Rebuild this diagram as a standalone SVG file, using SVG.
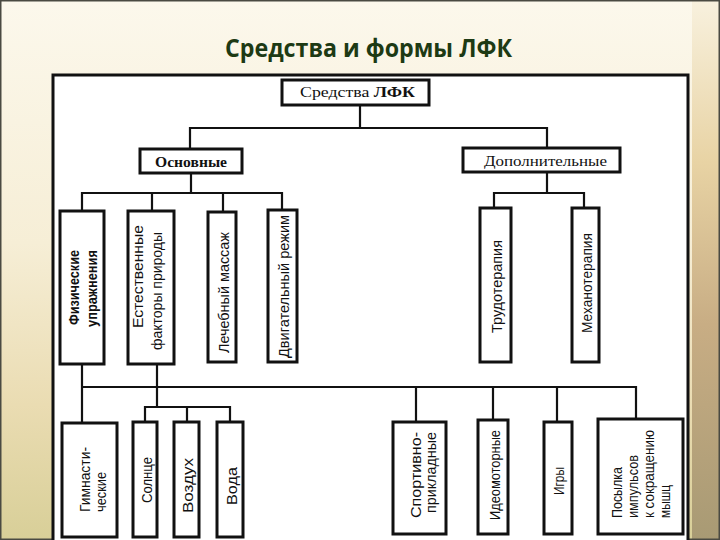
<svg xmlns="http://www.w3.org/2000/svg" width="720" height="540" viewBox="0 0 720 540">
<defs>
<linearGradient id="bgv" x1="0" y1="0" x2="0" y2="1">
<stop offset="0" stop-color="#fcf8ec"/>
<stop offset="0.45" stop-color="#f6eed6"/>
<stop offset="0.75" stop-color="#eadcb2"/>
<stop offset="1" stop-color="#d8cf98"/>
</linearGradient>
<linearGradient id="bgr" x1="0" y1="0" x2="0" y2="1">
<stop offset="0" stop-color="#f8f1de"/>
<stop offset="0.3" stop-color="#e8d3a4"/>
<stop offset="0.6" stop-color="#c8ad84"/>
<stop offset="1" stop-color="#a89a74"/>
</linearGradient>
<style>
.box{fill:#ffffff;stroke:#111;stroke-width:3}
.con{fill:none;stroke:#111;stroke-width:2.2;stroke-linecap:square}
.vt{font-family:"Liberation Sans Narrow","Liberation Sans",Arial,sans-serif;font-size:15px;fill:#111;dominant-baseline:central}
.ht{font-family:"Liberation Serif","Times New Roman",serif;font-size:15px;fill:#111}
</style>
</defs>
<rect x="0" y="0" width="720" height="540" fill="url(#bgv)"/>
<rect x="692" y="0" width="28" height="540" fill="url(#bgr)"/>
<rect x="0.75" y="0.75" width="718.5" height="538.5" fill="none" stroke="#4a4a42" stroke-width="1.5"/>
<text x="225" y="57" font-family="'Open Sans','Noto Sans',sans-serif" font-weight="bold" font-size="25" fill="#1d3a14" textLength="287" lengthAdjust="spacingAndGlyphs">Средства и формы ЛФК</text>
<rect x="53" y="75" width="635" height="470" fill="#ffffff" stroke="#111" stroke-width="3"/>

<g id="connectors">
<path class="con" d="M360 105V128M190 128H547M190 128V149M547 128V148"/>
<path class="con" d="M191 173V193M82 193H282M82 193V211M152 193V211M223 193V212M282 193V210"/>
<path class="con" d="M547 172V193M494 193H584M494 193V208M584 193V208"/>
<path class="con" d="M82 364V423M82 387H636M416 387V422M493 387V420M557 387V422M636 387V419"/>
<path class="con" d="M157 364V407M145 407H230M145 407V422M187 407V422M230 407V422"/>
</g>

<g id="root"><rect class="box" x="282" y="80" width="147" height="25"/><text class="ht" x="300" y="97" textLength="115" lengthAdjust="spacingAndGlyphs">Средства <tspan font-weight="bold">ЛФК</tspan></text></g>
<g id="osnovnye"><rect class="box" x="140" y="149" width="102" height="24"/><text class="ht" x="155" y="167" font-weight="bold" textLength="72" lengthAdjust="spacingAndGlyphs">Основные</text></g>
<g id="dopolnitelnye"><rect class="box" x="463" y="148" width="157" height="24"/><text class="ht" x="484" y="166" textLength="123" lengthAdjust="spacingAndGlyphs">Дополнительные</text></g>

<g id="fiz"><rect class="box" x="60" y="211" width="44" height="153"/>
<text class="vt" transform="translate(73,325) rotate(-90)" font-weight="bold" textLength="75" lengthAdjust="spacingAndGlyphs">Физические</text>
<text class="vt" transform="translate(91,327) rotate(-90)" font-weight="bold" textLength="77" lengthAdjust="spacingAndGlyphs">упражнения</text></g>
<g id="est"><rect class="box" x="128" y="211" width="46" height="153"/>
<text class="vt" transform="translate(137,328) rotate(-90)" textLength="103" lengthAdjust="spacingAndGlyphs">Естественные</text>
<text class="vt" transform="translate(156,350) rotate(-90)" textLength="118" lengthAdjust="spacingAndGlyphs">факторы природы</text></g>
<g id="massage"><rect class="box" x="208" y="212" width="28" height="150"/>
<text class="vt" transform="translate(223,353) rotate(-90)" textLength="121" lengthAdjust="spacingAndGlyphs">Лечебный массаж</text></g>
<g id="dvig"><rect class="box" x="268" y="210" width="29" height="152"/>
<text class="vt" transform="translate(283,358) rotate(-90)" textLength="143" lengthAdjust="spacingAndGlyphs">Двигательный режим</text></g>
<g id="trud"><rect class="box" x="480" y="208" width="31" height="154"/>
<text class="vt" transform="translate(496,333) rotate(-90)" textLength="93" lengthAdjust="spacingAndGlyphs">Трудотерапия</text></g>
<g id="mech"><rect class="box" x="572" y="208" width="27" height="154"/>
<text class="vt" transform="translate(586,333) rotate(-90)" textLength="100" lengthAdjust="spacingAndGlyphs">Механотерапия</text></g>

<g id="gym"><rect class="box" x="62" y="423" width="55" height="114"/>
<text class="vt" transform="translate(84,512) rotate(-90)" textLength="65" lengthAdjust="spacingAndGlyphs">Гимнасти-</text>
<text class="vt" transform="translate(100,512) rotate(-90)" textLength="40" lengthAdjust="spacingAndGlyphs">ческие</text></g>
<g id="sun"><rect class="box" x="133" y="422" width="24" height="115"/>
<text class="vt" transform="translate(146,503) rotate(-90)" textLength="46" lengthAdjust="spacingAndGlyphs">Солнце</text></g>
<g id="air"><rect class="box" x="174" y="422" width="25" height="115"/>
<text class="vt" transform="translate(187,513) rotate(-90)" textLength="55" lengthAdjust="spacingAndGlyphs">Воздух</text></g>
<g id="water"><rect class="box" x="217" y="422" width="26" height="115"/>
<text class="vt" transform="translate(231,505) rotate(-90)" textLength="38" lengthAdjust="spacingAndGlyphs">Вода</text></g>
<g id="sport"><rect class="box" x="393" y="422" width="53" height="112"/>
<text class="vt" transform="translate(415,518) rotate(-90)" textLength="86" lengthAdjust="spacingAndGlyphs">Спортивно-</text>
<text class="vt" transform="translate(430,513) rotate(-90)" textLength="81" lengthAdjust="spacingAndGlyphs">прикладные</text></g>
<g id="ideo"><rect class="box" x="478" y="420" width="30" height="114"/>
<text class="vt" transform="translate(494,520) rotate(-90)" textLength="90" lengthAdjust="spacingAndGlyphs">Идеомоторные</text></g>
<g id="games"><rect class="box" x="544" y="422" width="28" height="112"/>
<text class="vt" transform="translate(558,495) rotate(-90)" textLength="28" lengthAdjust="spacingAndGlyphs">Игры</text></g>
<g id="impuls"><rect class="box" x="598" y="419" width="85" height="115"/>
<text class="vt" transform="translate(616,518) rotate(-90)" textLength="51" lengthAdjust="spacingAndGlyphs">Посылка</text>
<text class="vt" transform="translate(632,518) rotate(-90)" textLength="63" lengthAdjust="spacingAndGlyphs">импульсов</text>
<text class="vt" transform="translate(648,518) rotate(-90)" textLength="88" lengthAdjust="spacingAndGlyphs">к сокращению</text>
<text class="vt" transform="translate(664,518) rotate(-90)" textLength="33" lengthAdjust="spacingAndGlyphs">мышц</text></g>
</svg>
